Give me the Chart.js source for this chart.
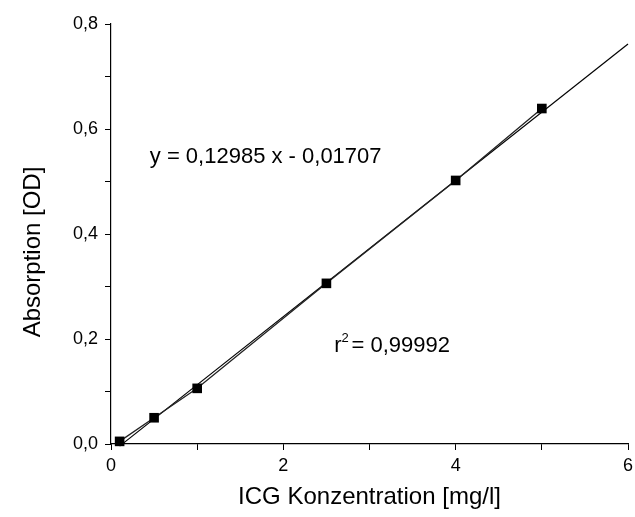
<!DOCTYPE html>
<html>
<head>
<meta charset="utf-8">
<script src="https://cdn.jsdelivr.net/npm/chart.js@4.4.0/dist/chart.umd.min.js"></script>
<style>
  html, body { margin: 0; padding: 0; background: #fff; }
  #wrap { width: 635px; height: 517px; }
</style>
</head>
<body>
<div id="wrap"><canvas id="kalibrierung"></canvas></div>
<script>
const konzentration = [0.1, 0.5, 1, 2.5, 4, 5];
const absorption = [0.005, 0.050, 0.106, 0.306, 0.502, 0.639];
const fehler = [0.002, 0.004, 0.004, 0.006, 0.004, 0.006];

// lineare Regression laut Grafik
const steigung = 0.12985;
const achsenabschnitt = -0.01707;
const fitX = [0.1, 6];

const gleichungText = "y = 0,12985 x - 0,01707";
const r2Text = "= 0,99992";
const yTitel = "Absorption [OD]";

const xTicks = [0, 2, 4, 6];
const yTicks = [0, 0.2, 0.4, 0.6, 0.8];

const schrift = "'Liberation Sans', Arial, sans-serif";
const komma = v => String(v).replace('.', ',');

const messpunkte = konzentration.map((x, i) => ({ x: x, y: absorption[i] }));
const fitpunkte = fitX.map(x => ({ x: x, y: steigung * x + achsenabschnitt }));

// Fehlerbalken + Beschriftungen
const extras = {
  id: 'extras',
  afterDatasetsDraw(chart) {
    const ctx = chart.ctx;
    const xs = chart.scales.x, ys = chart.scales.y;
    ctx.save();
    ctx.strokeStyle = '#000';
    ctx.lineWidth = 1.2;
    konzentration.forEach((x, i) => {
      const px = xs.getPixelForValue(x);
      const top = ys.getPixelForValue(absorption[i] + fehler[i]);
      const bot = ys.getPixelForValue(absorption[i] - fehler[i]);
      ctx.beginPath();
      ctx.moveTo(px, top); ctx.lineTo(px, bot);
      ctx.moveTo(px - 4, top); ctx.lineTo(px + 4, top);
      ctx.moveTo(px - 4, bot); ctx.lineTo(px + 4, bot);
      ctx.stroke();
    });

    ctx.fillStyle = '#000';
    ctx.textBaseline = 'alphabetic';
    ctx.textAlign = 'left';
    ctx.font = '22px ' + schrift;
    ctx.fillText(gleichungText, xs.getPixelForValue(0.45), ys.getPixelForValue(0.535));

    const rx = xs.getPixelForValue(2.59);
    const ry = ys.getPixelForValue(0.1745);
    ctx.fillText('r', rx, ry);
    const rw = ctx.measureText('r').width;
    ctx.font = '13px ' + schrift;
    ctx.fillText('2', rx + rw, ry - 10);
    ctx.font = '22px ' + schrift;
    ctx.fillText(r2Text, rx + rw + 10, ry);

    // y-Achsentitel, etwas unterhalb der Mitte wie im Original
    ctx.translate(33, (ys.top + ys.bottom) / 2 + 18);
    ctx.rotate(-Math.PI / 2);
    ctx.textAlign = 'center';
    ctx.textBaseline = 'middle';
    ctx.font = '24px ' + schrift;
    ctx.fillText(yTitel, 0, 0);
    ctx.restore();
  }
};

new Chart(document.getElementById('kalibrierung'), {
  type: 'scatter',
  data: {
    datasets: [
      {
        label: 'Messwerte',
        data: messpunkte,
        showLine: true,
        borderColor: '#222',
        borderWidth: 1.3,
        backgroundColor: '#000',
        pointStyle: 'rect',
        pointRadius: 6.8,
        pointBorderWidth: 0,
        clip: false
      },
      {
        label: 'Fit',
        data: fitpunkte,
        showLine: true,
        borderColor: '#000',
        borderWidth: 1.2,
        pointRadius: 0,
        clip: false
      }
    ]
  },
  options: {
    responsive: true,
    maintainAspectRatio: false,
    animation: false,
    layout: { padding: { left: 0, right: 7, top: 24, bottom: 0 } },
    plugins: {
      legend: { display: false },
      tooltip: { enabled: false }
    },
    scales: {
      x: {
        type: 'linear',
        min: 0,
        max: 6,
        afterFit: s => { s.height = 73; s.paddingLeft = 0; s.paddingRight = 0; },
        afterBuildTicks: s => { s.ticks = [0, 1, 2, 3, 4, 5, 6].map(v => ({ value: v })); },
        ticks: {
          autoSkip: false,
          maxRotation: 0,
          padding: 5,
          color: '#000',
          font: { family: schrift, size: 18 },
          callback: v => xTicks.includes(v) ? komma(v) : ''
        },
        grid: { drawOnChartArea: false, drawTicks: true, tickLength: 6, tickColor: '#000' },
        border: { display: true, color: '#000', width: 1.2 },
        title: {
          display: true,
          text: 'ICG Konzentration [mg/l]',
          color: '#000',
          font: { family: schrift, size: 24 },
          padding: { top: 0, bottom: 5 }
        }
      },
      y: {
        type: 'linear',
        min: 0,
        max: 0.8,
        afterFit: s => { s.width = 111; s.paddingTop = 0; s.paddingBottom = 0; },
        afterBuildTicks: s => { s.ticks = [0, 1, 2, 3, 4, 5, 6, 7, 8].map(v => ({ value: v / 10 })); },
        ticks: {
          autoSkip: false,
          padding: 7,
          color: '#000',
          font: { family: schrift, size: 18 },
          callback: v => {
            const t = yTicks.find(k => Math.abs(k - v) < 1e-6);
            return t !== undefined ? t.toFixed(1).replace('.', ',') : '';
          }
        },
        grid: { drawOnChartArea: false, drawTicks: true, tickLength: 6, tickColor: '#000' },
        border: { display: true, color: '#000', width: 1.2 },
        title: { display: false }
      }
    }
  },
  plugins: [extras]
});
</script>
</body>
</html>
